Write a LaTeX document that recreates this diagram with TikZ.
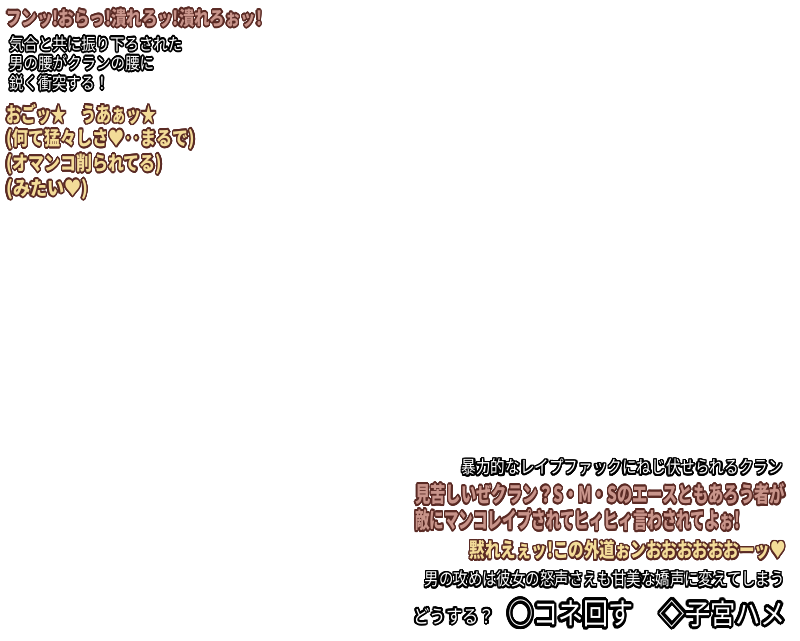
\documentclass[tikz,border=0pt]{standalone}
\usepackage{fontspec}
\usepackage{graphicx}
\usepackage{contour}
\setmainfont{Noto Sans CJK JP}
\contourlength{1.3pt}
\contournumber{24}
\usetikzlibrary{positioning}
\definecolor{rim}{HTML}{5A2A24}
\definecolor{rose}{HTML}{C8948A}
\definecolor{cream}{HTML}{F3DC98}
\tikzset{
  say/.style={anchor=west, inner sep=0pt, font=\bfseries\fontsize{16}{16}\selectfont},
  tell/.style={anchor=west, inner sep=0pt, font=\fontsize{13}{13}\selectfont},
}
\newcommand{\fit}[3]{\resizebox*{#1pt}{#2pt}{#3}}
\newcommand{\rosetxt}[1]{\contour{rim}{\textcolor{rose}{#1}}}
\newcommand{\creamtxt}[1]{\contour{rim}{\textcolor{cream}{#1}}}
\newcommand{\whitetxt}[1]{\contour{black}{\textcolor{white}{#1}}}
\begin{document}
\begin{tikzpicture}[x=1pt, y=-1pt]
\useasboundingbox (0,0) rectangle (800,640);

% top left
\node[say] (shout) at (6,19) {\fit{256}{20}{\rosetxt{フンッ!おらっ!潰れろッ!潰れろぉッ!}}};
\foreach \t/\w/\y [count=\i] in {気合と共に振り下ろされた/173/45, 男の腰がクランの腰に/145/64, 鋭く衝突する！/100/84}
  \node[tell] (nar\i) at (9,\y) {\fit{\w}{17}{\whitetxt{\t}}};
\foreach \t/\w/\y [count=\i] in {おごッ★　うあぁッ★/150/115, (何て猛々しさ♥‥まるで)/189/140, (オマンコ削られてる)/156/165, (みたい♥)/82/190}
  \node[say] (moan\i) at (6,\y) {\fit{\w}{22}{\creamtxt{\t}}};

% bottom right
\node[tell, anchor=east] (scene) at (783,468) {\fit{321}{18}{\whitetxt{暴力的なレイプファックにねじ伏せられるクラン}}};
\node[say] (taunt1) at (415,495) {\fit{370}{23}{\rosetxt{見苦しいぜクラン？S・M・Sのエースともあろう者が}}};
\node[say] (taunt2) at (415,521) {\fit{325}{23}{\rosetxt{敵にマンコレイプされてヒィヒィ言わされてよぉ!}}};
\node[say, anchor=east] (retort) at (786,551) {\fit{316}{21}{\creamtxt{黙れえぇッ!この外道ぉンおおおおおおーッ♥}}};
\node[tell, anchor=east] (effect) at (785,580) {\fit{360}{18}{\whitetxt{男の攻めは彼女の怒声さえも甘美な嬌声に変えてしまう}}};
\node[tell] (ask) at (413,617) {\fit{82}{18}{\whitetxt{どうする？}}};
\node[tell] (pick1) at (508,615) {\fit{125}{30}{\whitetxt{○コネ回す}}};
\node[tell, anchor=east] (pick2) at (786,615) {\fit{126}{30}{\whitetxt{◇子宮ハメ}}};
\end{tikzpicture}
\end{document}
